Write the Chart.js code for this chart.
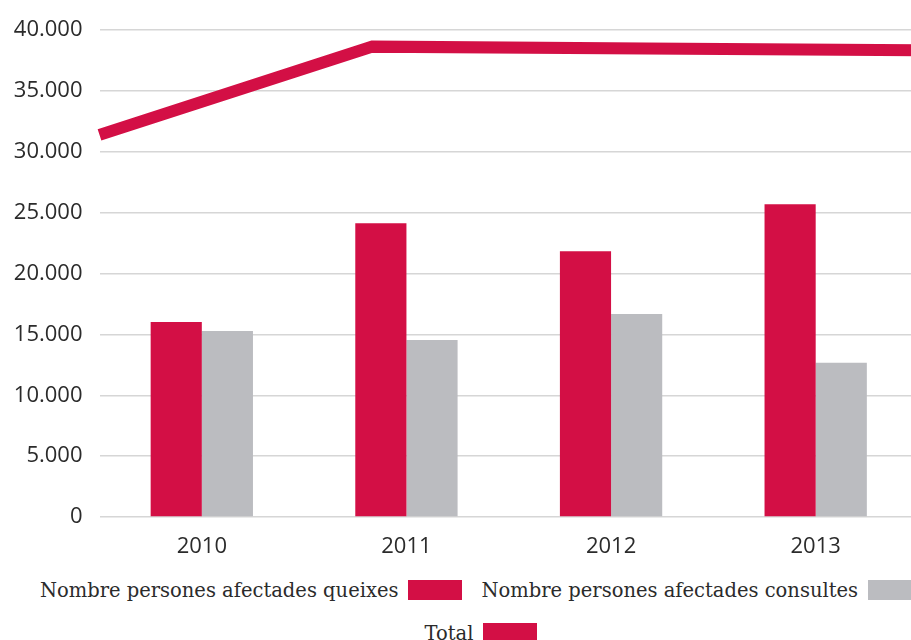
<!DOCTYPE html>
<html>
<head>
<meta charset="utf-8">
<script src="https://cdn.jsdelivr.net/npm/chart.js@4.4.1/dist/chart.umd.min.js"></script>
<style>
  html, body { margin: 0; padding: 0; background: #fff; overflow: hidden; width: 911px; height: 640px; }
  #wrap { position: absolute; left: 0; top: 0; width: 930px; height: 570px; }
  #legend {
    position: absolute; left: 0; top: 577px; width: 962px;
    display: flex; flex-wrap: wrap; justify-content: center;
    row-gap: 17px; column-gap: 19px;
    font-family: "DejaVu Serif", serif; font-size: 19.5px; color: #2b2b2b;
  }
  .item { display: flex; align-items: center; white-space: nowrap; height: 26px; }
  .box { width: 54px; height: 20px; margin-left: 10px; }
</style>
</head>
<body>
<div id="wrap"><canvas id="chart"></canvas></div>
<div id="legend"></div>
<script>
const years = ['2010', '2011', '2012', '2013'];
const queixes = [16030, 24140, 21840, 25690];
const consultes = [15290, 14550, 16680, 12670];
const total = [31400, 38650, 38500, 38360];

const red = '#d30f45';
const grey = '#bbbcc0';
const tickFont = { family: '"Open Sans", sans-serif', size: 22 };

// 40000 -> "40.000"
function fmt(v) {
  return String(v).replace(/\B(?=(\d{3})+(?!\d))/g, '.');
}

// Chart.js 4.5 groups bars per x axis id when the chart's indexAxis is 'x',
// so the extra x2 axis for the line would halve the bars. Chart-level
// indexAxis is 'y' and every dataset sets its own indexAxis 'x'.
const ctx = document.getElementById('chart');
const chart = new Chart(ctx, {
  type: 'bar',
  data: {
    labels: years,
    datasets: [{
      label: 'Nombre persones afectades queixes',
      data: queixes,
      indexAxis: 'x',
      backgroundColor: red,
      categoryPercentage: 0.5,
      barPercentage: 1,
      order: 2
    }, {
      label: 'Nombre persones afectades consultes',
      data: consultes,
      indexAxis: 'x',
      backgroundColor: grey,
      categoryPercentage: 0.5,
      barPercentage: 1,
      order: 2
    }, {
      type: 'line',
      label: 'Total',
      data: total,
      indexAxis: 'x',
      xAxisID: 'x2',
      borderColor: red,
      backgroundColor: red,
      borderWidth: 12,
      pointRadius: 0,
      tension: 0,
      order: 1
    }]
  },
  options: {
    indexAxis: 'y',
    responsive: true,
    maintainAspectRatio: false,
    animation: false,
    layout: { padding: { top: 28, right: 12, bottom: 0, left: 0 } },
    plugins: {
      legend: { display: false },
      tooltip: { enabled: false }
    },
    scales: {
      x: {
        type: 'category',
        position: 'bottom',
        offset: true,
        grid: { display: false },
        border: { display: false },
        ticks: { font: tickFont, color: '#2b2b2b', padding: 9 },
        afterFit(s) { s.height = 53; }
      },
      x2: {
        type: 'category',
        labels: years,
        offset: false,
        display: false
      },
      y: {
        type: 'linear',
        position: 'left',
        offset: false,
        min: 0,
        max: 40000,
        ticks: { stepSize: 5000, font: tickFont, color: '#2b2b2b', padding: 17, callback: v => fmt(v) },
        grid: { offset: false, color: '#d6d6d6', lineWidth: 1.5, drawTicks: false },
        border: { display: false },
        afterFit(s) { s.width = 99.5; }
      }
    }
  }
});

// legend: text first, then the colour box
const legend = document.getElementById('legend');
chart.data.datasets.forEach(ds => {
  const item = document.createElement('div');
  item.className = 'item';
  const txt = document.createElement('span');
  txt.textContent = ds.label;
  const box = document.createElement('span');
  box.className = 'box';
  box.style.background = ds.type === 'line' ? ds.borderColor : ds.backgroundColor;
  item.appendChild(txt);
  item.appendChild(box);
  legend.appendChild(item);
});
</script>
</body>
</html>
